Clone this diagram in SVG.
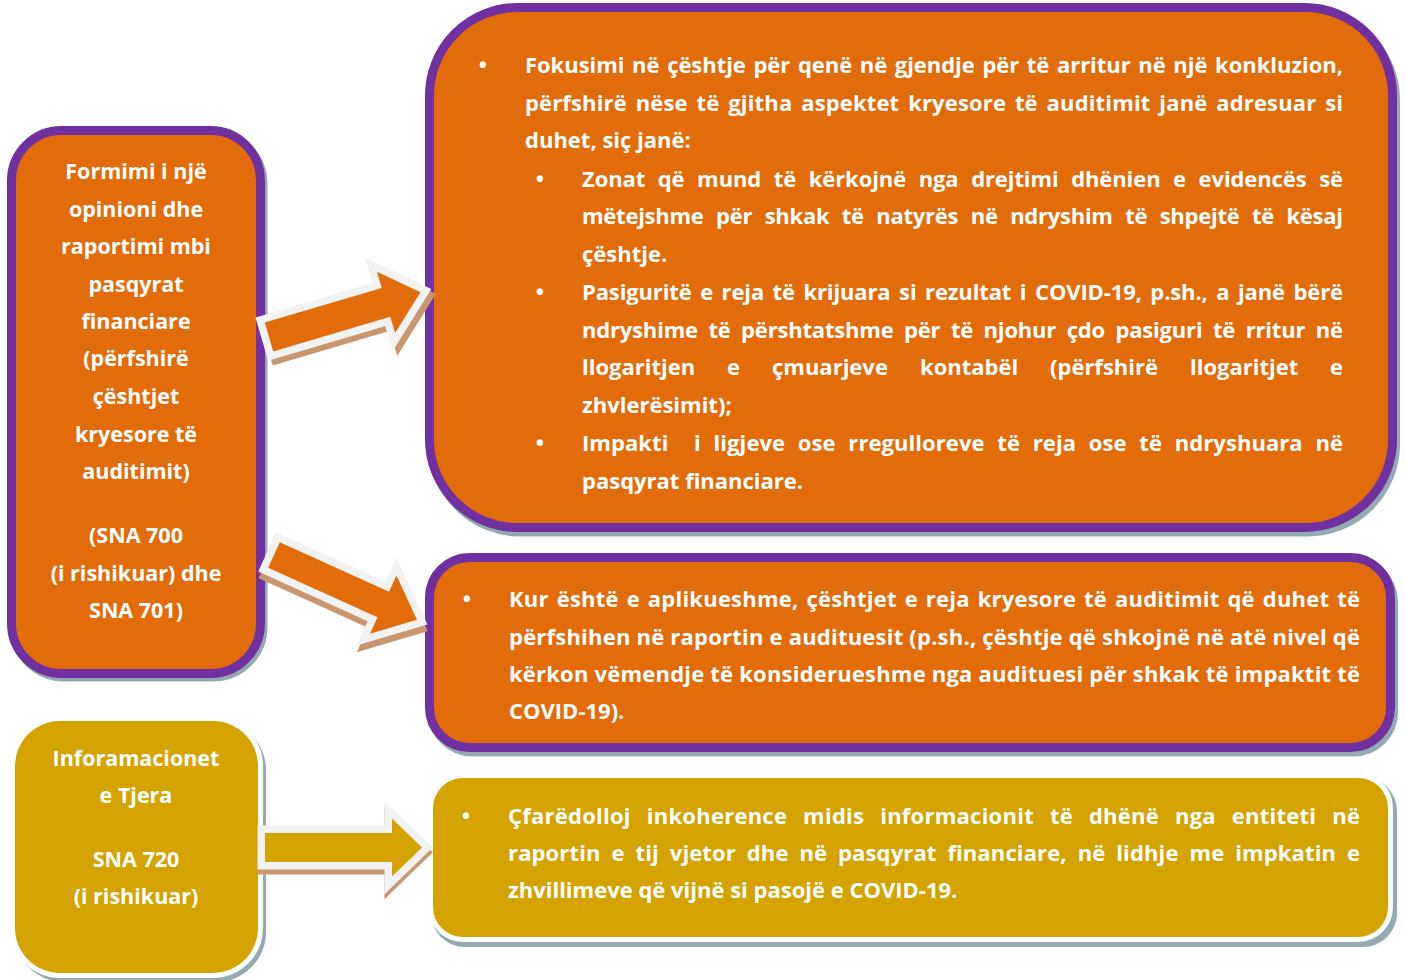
<svg xmlns="http://www.w3.org/2000/svg" width="1405" height="980" viewBox="0 0 1405 980">
<style>
.t{font-family:"Open Sans","Noto Sans","DejaVu Sans",sans-serif;font-weight:700;font-size:22px;fill:#ffffff}
.l{font-size:21.5px}
.c{text-anchor:middle}
.b{text-anchor:middle}
.pbox{fill:#E36C0A;stroke:#7030A0;stroke-width:9}
.ybox{fill:#D5A300;stroke:#ffffff;stroke-width:10;paint-order:stroke}
.sh{fill:#94A9B0;stroke:#94A9B0;stroke-width:9}
.ysh{fill:#94A9B0}
.arr{stroke:#F2F2F2;stroke-width:15;stroke-linejoin:miter;stroke-miterlimit:10;paint-order:stroke}
.ashadow{fill:#C9976F;stroke:#C9976F;stroke-width:15;stroke-linejoin:miter;stroke-miterlimit:10}
</style>
<rect width="1405" height="980" fill="#ffffff"/>

<g id="node-left1">
<rect class="sh" x="14" y="134" width="249" height="543" rx="50"/>
<rect class="pbox" x="11.5" y="130.5" width="249" height="543" rx="50"/>
<text class="t l c" x="136" y="179">Formimi i një</text>
<text class="t l c" x="136" y="217">opinioni dhe</text>
<text class="t l c" x="136" y="254">raportimi mbi</text>
<text class="t l c" x="136" y="292">pasqyrat</text>
<text class="t l c" x="136" y="329">financiare</text>
<text class="t l c" x="136" y="366">(përfshirë</text>
<text class="t l c" x="136" y="404">çështjet</text>
<text class="t l c" x="136" y="442">kryesore të</text>
<text class="t l c" x="136" y="479">auditimit)</text>
<text class="t l c" x="136" y="543">(SNA 700</text>
<text class="t l c" x="136" y="581">(i rishikuar) dhe</text>
<text class="t l c" x="136" y="618">SNA 701)</text>
</g>

<g id="node-left2">
<rect class="ysh" x="14" y="720" width="252" height="262" rx="50"/>
<rect class="ybox" x="15" y="721" width="243" height="252" rx="45"/>
<text class="t l c" x="136" y="766">Inforamacionet</text>
<text class="t l c" x="136" y="803">e Tjera</text>
<text class="t l c" x="136" y="867">SNA 720</text>
<text class="t l c" x="136" y="904">(i rishikuar)</text>
</g>

<g id="node-top">
<rect class="sh" x="432.5" y="12" width="963" height="520" rx="88"/>
<rect class="pbox" x="429.5" y="7.5" width="963" height="520" rx="88"/>
<text class="t b" x="483" y="73">•</text>
<text class="t" x="525" y="73" textLength="818" lengthAdjust="spacing" word-spacing="2">Fokusimi në çështje për qenë në gjendje për të arritur në një konkluzion,</text>
<text class="t" x="525" y="111" textLength="818" lengthAdjust="spacing" word-spacing="3">përfshirë nëse të gjitha aspektet kryesore të auditimit janë adresuar si</text>
<text class="t" x="525" y="148">duhet, siç janë:</text>
<text class="t b" x="540" y="187">•</text>
<text class="t" x="582" y="187" textLength="761" lengthAdjust="spacing" word-spacing="7">Zonat që mund të kërkojnë nga drejtimi dhënien e evidencës së</text>
<text class="t" x="582" y="224" textLength="761" lengthAdjust="spacing" word-spacing="7">mëtejshme për shkak të natyrës në ndryshim të shpejtë të kësaj</text>
<text class="t" x="582" y="262">çështje.</text>
<text class="t b" x="540" y="300">•</text>
<text class="t" x="582" y="300" textLength="761" lengthAdjust="spacing" word-spacing="3">Pasiguritë e reja të krijuara si rezultat i COVID-19, p.sh., a janë bërë</text>
<text class="t" x="582" y="338" textLength="761" lengthAdjust="spacing" word-spacing="5">ndryshime të përshtatshme për të njohur çdo pasiguri të rritur në</text>
<text class="t" y="375"><tspan x="582">llogaritjen</tspan><tspan x="727">e</tspan><tspan x="772">çmuarjeve</tspan><tspan x="920">kontabël</tspan><tspan x="1050">(përfshirë</tspan><tspan x="1190">llogaritjet</tspan><tspan x="1330">e</tspan></text>
<text class="t" x="582" y="413">zhvlerësimit);</text>
<text class="t b" x="540" y="451">•</text>
<text class="t" x="582" y="451" textLength="761" lengthAdjust="spacing" word-spacing="7" xml:space="preserve">Impakti  i ligjeve ose rregulloreve të reja ose të ndryshuara në</text>
<text class="t" x="582" y="489">pasqyrat financiare.</text>
</g>

<g id="node-middle">
<rect class="sh" x="432.5" y="562" width="961" height="190" rx="40"/>
<rect class="pbox" x="429.5" y="557.5" width="961" height="190" rx="40"/>
<text class="t b" x="467" y="607">•</text>
<text class="t" x="509" y="607" textLength="851" lengthAdjust="spacing" word-spacing="2">Kur është e aplikueshme, çështjet e reja kryesore të auditimit që duhet të</text>
<text class="t" x="509" y="645" textLength="851" lengthAdjust="spacing">përfshihen në raportin e audituesit (p.sh., çështje që shkojnë në atë nivel që</text>
<text class="t" x="509" y="682" textLength="851" lengthAdjust="spacing">kërkon vëmendje të konsiderueshme nga audituesi për shkak të impaktit të</text>
<text class="t" x="509" y="719">COVID-19).</text>
</g>

<g id="node-bottom">
<rect class="ysh" x="431" y="777" width="966" height="170" rx="34"/>
<rect class="ybox" x="433" y="778" width="955" height="159" rx="30"/>
<text class="t b" x="466" y="824">•</text>
<text class="t" x="508" y="824" textLength="852" lengthAdjust="spacing" word-spacing="10">Çfarëdolloj inkoherence midis informacionit të dhënë nga entiteti në</text>
<text class="t" x="508" y="861" textLength="852" lengthAdjust="spacing" word-spacing="5">raportin e tij vjetor dhe në pasqyrat financiare, në lidhje me impkatin e</text>
<text class="t" x="508" y="898">zhvillimeve që vijnë si pasojë e COVID-19.</text>
</g>

<g id="connectors">
<g transform="translate(269,337) rotate(-16.5)">
<path class="ashadow" transform="translate(3,6)" d="M0,-15 L122,-15 L122,-32 L158,0 L122,32 L122,15 L0,15 Z"/>
<path class="arr" fill="#E36C0A" d="M0,-15 L122,-15 L122,-32 L158,0 L122,32 L122,15 L0,15 Z"/>
</g>
<g transform="translate(274,555) rotate(24.4)">
<path class="ashadow" transform="translate(3,6)" d="M0,-14 L120,-14 L120,-32 L157,0 L120,32 L120,14 L0,14 Z"/>
<path class="arr" fill="#E36C0A" d="M0,-14 L120,-14 L120,-32 L157,0 L120,32 L120,14 L0,14 Z"/>
</g>
<g transform="translate(265,847.5)">
<path class="ashadow" transform="translate(0,5)" d="M0,-14.5 L127,-14.5 L127,-29 L157,0 L127,29 L127,14.5 L0,14.5 Z"/>
<path class="arr" fill="#D5A300" d="M0,-14.5 L127,-14.5 L127,-29 L157,0 L127,29 L127,14.5 L0,14.5 Z"/>
</g>
</g>
</svg>
